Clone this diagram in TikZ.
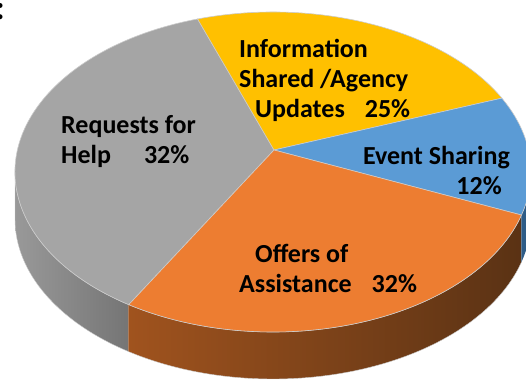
\documentclass[tikz,border=0pt]{standalone}
\usepackage{fontspec}
\setmainfont{Carlito}
\usetikzlibrary{calc}

\definecolor{helpgray}{HTML}{A5A5A5}
\definecolor{infoyellow}{HTML}{FFC000}
\definecolor{eventblue}{HTML}{5B9BD5}
\definecolor{offerorange}{HTML}{ED7D31}
\definecolor{sidegrayL}{HTML}{999999}
\definecolor{sidegrayR}{HTML}{757575}
\definecolor{sideorangeL}{HTML}{A0531E}
\definecolor{sideorangeR}{HTML}{5A3214}
\definecolor{sideblue}{HTML}{2E5C87}

\begin{document}
\begin{tikzpicture}[x=1pt,y=1pt,
    slice/.style={draw=white!80!black, line width=0.6pt},
    sidewall/.style={draw=white!80!black, line width=0.4pt},
    pielabel/.style={font=\fontsize{26}{30}\selectfont\bfseries, inner sep=0pt, text=black}]
    \useasboundingbox (0,0) rectangle (526,381);
    \clip (0,0) rectangle (526,381);

    % Pie geometry
    \def\rx{258}
    \def\ry{160}
    \def\dep{47}
    \coordinate (ctr) at (273,209);
    \coordinate (apex) at (274,231);

    % Side walls
    \shade[sidewall, left color=sidegrayL, right color=sidegrayR]
        ($(ctr)+(180:{\rx} and {\ry})$) arc[start angle=180, end angle=236, x radius=\rx, y radius=\ry]
        -- ++(0,-\dep) arc[start angle=236, end angle=180, x radius=\rx, y radius=\ry] -- cycle;
    \shade[sidewall, left color=sideorangeL, right color=sideorangeR]
        ($(ctr)+(236:{\rx} and {\ry})$) arc[start angle=236, end angle=344.4, x radius=\rx, y radius=\ry]
        -- ++(0,-\dep) arc[start angle=344.4, end angle=236, x radius=\rx, y radius=\ry] -- cycle;
    \fill[sideblue]
        ($(ctr)+(344.4:{\rx} and {\ry})$) arc[start angle=344.4, end angle=360, x radius=\rx, y radius=\ry]
        -- ++(0,-\dep) arc[start angle=360, end angle=344.4, x radius=\rx, y radius=\ry] -- cycle;

    % Top slices
    \fill[slice, fill=helpgray] (apex) -- ($(ctr)+(107:{\rx} and {\ry})$)
        arc[start angle=107, end angle=236, x radius=\rx, y radius=\ry] -- cycle;
    \fill[slice, fill=infoyellow] (apex) -- ($(ctr)+(27.5:{\rx} and {\ry})$)
        arc[start angle=27.5, end angle=107, x radius=\rx, y radius=\ry] -- cycle;
    \fill[slice, fill=eventblue] (apex) -- ($(ctr)+(-15.6:{\rx} and {\ry})$)
        arc[start angle=-15.6, end angle=27.5, x radius=\rx, y radius=\ry] -- cycle;
    \fill[slice, fill=offerorange] (apex) -- ($(ctr)+(236:{\rx} and {\ry})$)
        arc[start angle=236, end angle=344.4, x radius=\rx, y radius=\ry] -- cycle;

    % Labels (base = last line)
    \node[pielabel, anchor=base west, align=left] (help) at (61,218)
        {Requests for\\Help\hspace{33pt}32\%};
    \node[pielabel, anchor=base west, align=left] (info) at (239,264)
        {Information\\Shared /Agency\\\hspace{16pt}Updates\hspace{20pt}25\%};
    \node[pielabel, anchor=base east, align=right] (event) at (510,187)
        {Event Sharing\\12\%\kern8pt};
    \node[pielabel, anchor=base west, align=left] (offer) at (239,89)
        {\hspace{16pt}Offers of\\Assistance\hspace{20pt}32\%};

    % Cut-off mark at the corner
    \node[pielabel, font=\fontsize{34}{40}\selectfont\bfseries] (cut) at (0,369) {:};
\end{tikzpicture}
\end{document}
